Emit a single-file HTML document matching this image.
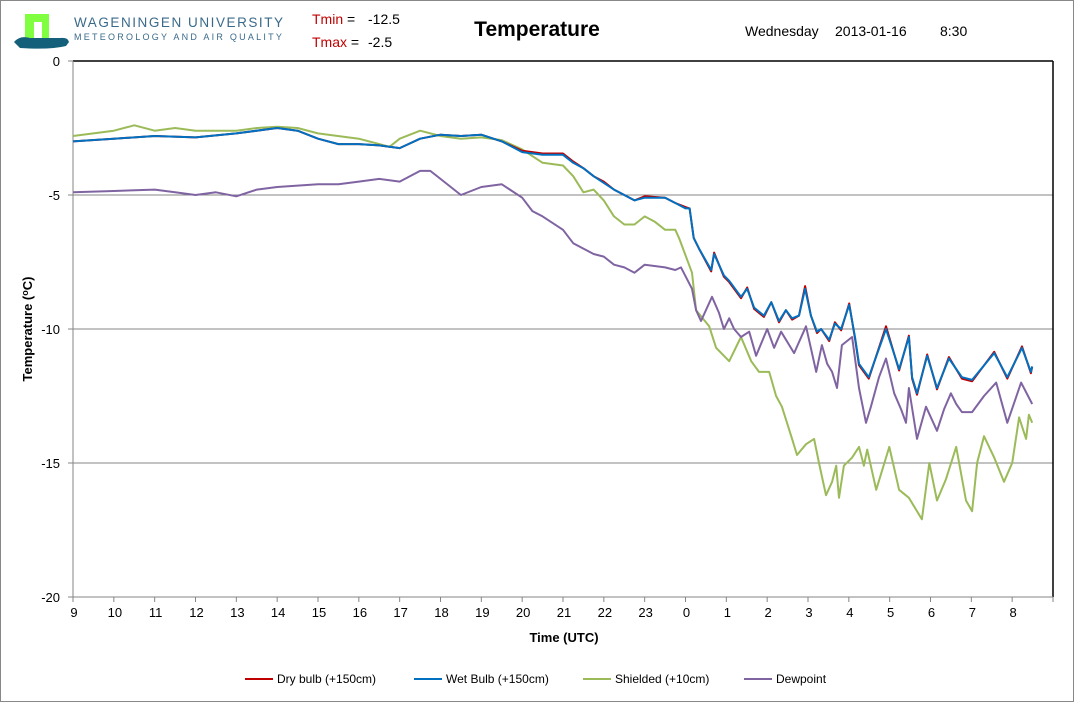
<!DOCTYPE html>
<html><head><meta charset="utf-8"><style>
body{margin:0;background:#fff;font-family:"Liberation Sans",Arial,sans-serif}
#wrap{position:relative;width:1074px;height:702px;overflow:hidden}
</style></head><body>
<div id="wrap">
<svg id="svg" width="1074" height="702" xmlns="http://www.w3.org/2000/svg" font-family="Liberation Sans, Arial, sans-serif">
<rect x="0.5" y="0.5" width="1073" height="701" fill="#fff" stroke="#888"/>
<g>
<rect x="25" y="14" width="24" height="24" fill="#7fff3f"/>
<rect x="34" y="22" width="8" height="16" fill="#fff"/>
<path d="M14,42 Q20,35 30,38 L60,38 Q68,37 69,42 L66,46 Q50,50 20,48 Z" fill="#14607a"/>
</g>
<text x="74" y="27" font-size="13.5" fill="#3a6a8a" letter-spacing="1.55">WAGENINGEN UNIVERSITY</text>
<text x="74" y="40" font-size="9" fill="#3a6a8a" letter-spacing="2.25">METEOROLOGY AND AIR QUALITY</text>
<text x="312" y="24" font-size="14"><tspan fill="#c00000">Tmin</tspan><tspan fill="#000"> =</tspan></text>
<text x="368" y="24" font-size="14">-12.5</text>
<text x="312" y="47" font-size="14"><tspan fill="#c00000">Tmax</tspan><tspan fill="#000"> =</tspan></text>
<text x="368" y="47" font-size="14">-2.5</text>
<text x="537" y="36" font-size="21" font-weight="bold" text-anchor="middle">Temperature</text>
<text x="745" y="36" font-size="14">Wednesday</text>
<text x="835" y="36" font-size="14">2013-01-16</text>
<text x="940" y="36" font-size="14">8:30</text>
<g id="grid"></g><g id="axes"></g><g id="series"></g>
<text transform="translate(32,329) rotate(-90)" font-size="13" font-weight="bold" text-anchor="middle">Temperature (<tspan font-size="9" dy="-4">o</tspan><tspan dy="4">C)</tspan></text>
<text x="564" y="642" font-size="13" font-weight="bold" text-anchor="middle">Time (UTC)</text>
<g id="legend"></g>
</svg>
</div>
<script>
const xTickLabels=["9","10","11","12","13","14","15","16","17","18","19","20","21","22","23","0","1","2","3","4","5","6","7","8"];
const yTicks=[0,-5,-10,-15,-20];
const wetT=[0,1,2,3,4,5,5.5,6,6.5,7,7.5,8,8.5,9,9.5,10,10.5,11,11.5,12,12.25,12.5,12.75,13,13.25,13.5,13.75,14,14.5,14.75,15,15.1,15.2,15.33,15.63,15.7,15.94,16.07,16.36,16.51,16.68,16.92,17.1,17.29,17.46,17.61,17.78,17.93,18.07,18.22,18.32,18.52,18.66,18.81,19.01,19.15,19.25,19.49,19.91,20.23,20.47,20.55,20.67,20.92,21.16,21.45,21.77,22.02,22.56,22.88,23.24,23.46,23.49];
const wetV=[-3.0,-2.9,-2.8,-2.85,-2.7,-2.5,-2.6,-2.9,-3.1,-3.1,-3.15,-3.25,-2.9,-2.75,-2.8,-2.75,-3.0,-3.4,-3.5,-3.5,-3.8,-4.0,-4.3,-4.55,-4.8,-5.0,-5.2,-5.1,-5.1,-5.3,-5.5,-5.5,-6.6,-7.0,-7.8,-7.2,-8.0,-8.2,-8.8,-8.5,-9.2,-9.5,-9.0,-9.7,-9.3,-9.6,-9.5,-8.5,-9.5,-10.1,-10.0,-10.4,-9.8,-10.0,-9.1,-10.3,-11.3,-11.8,-10.0,-11.5,-10.3,-11.8,-12.4,-11.0,-12.2,-11.1,-11.8,-11.9,-10.9,-11.8,-10.7,-11.6,-11.4];
const dryT=wetT.slice();
const dryV=[-3.0,-2.9,-2.8,-2.85,-2.7,-2.5,-2.6,-2.9,-3.1,-3.1,-3.15,-3.25,-2.9,-2.75,-2.8,-2.75,-3.0,-3.35,-3.45,-3.45,-3.75,-4.0,-4.3,-4.5,-4.8,-5.0,-5.2,-5.05,-5.1,-5.3,-5.45,-5.5,-6.6,-7.0,-7.85,-7.15,-8.05,-8.25,-8.85,-8.45,-9.25,-9.55,-9.0,-9.75,-9.3,-9.65,-9.5,-8.4,-9.5,-10.15,-10.0,-10.45,-9.75,-10.05,-9.05,-10.35,-11.35,-11.85,-9.9,-11.55,-10.25,-11.85,-12.45,-10.95,-12.25,-11.05,-11.85,-11.95,-10.85,-11.85,-10.65,-11.65,-11.4];
const shT=[0,1,1.5,2,2.5,3,4,4.5,5,5.5,6,7,7.75,8,8.5,9,9.5,10,10.5,11,11.5,12,12.25,12.5,12.75,13,13.25,13.5,13.75,14,14.25,14.5,14.75,14.84,15.16,15.26,15.58,15.75,16.07,16.36,16.61,16.8,17.05,17.22,17.36,17.61,17.73,17.95,18.15,18.27,18.44,18.59,18.69,18.76,18.88,19.08,19.25,19.37,19.45,19.67,19.99,20.23,20.47,20.79,20.97,21.16,21.38,21.63,21.87,22.02,22.14,22.31,22.56,22.8,23.0,23.17,23.34,23.41,23.49];
const shV=[-2.8,-2.6,-2.4,-2.6,-2.5,-2.6,-2.6,-2.5,-2.45,-2.5,-2.7,-2.9,-3.2,-2.9,-2.6,-2.8,-2.9,-2.85,-2.95,-3.3,-3.8,-3.9,-4.3,-4.9,-4.8,-5.2,-5.8,-6.1,-6.1,-5.8,-6.0,-6.3,-6.3,-6.6,-7.9,-9.3,-9.9,-10.7,-11.2,-10.3,-11.2,-11.6,-11.6,-12.5,-12.9,-14.1,-14.7,-14.3,-14.1,-15.0,-16.2,-15.7,-15.1,-16.3,-15.1,-14.8,-14.4,-15.1,-14.5,-16.0,-14.4,-16.0,-16.3,-17.1,-15.0,-16.4,-15.6,-14.4,-16.4,-16.8,-15.0,-14.0,-14.8,-15.7,-15.0,-13.3,-14.1,-13.2,-13.5];
const dpT=[0,1,2,2.5,3,3.5,4,4.5,5,5.5,6,6.5,7,7.5,8,8.5,8.75,9,9.5,10,10.5,11,11.25,11.5,12,12.25,12.5,12.75,13,13.25,13.5,13.75,14,14.5,14.75,14.89,15.16,15.26,15.38,15.65,15.82,15.94,16.07,16.19,16.36,16.56,16.73,17.0,17.17,17.34,17.66,17.95,18.2,18.34,18.47,18.59,18.71,18.83,19.08,19.25,19.42,19.54,19.74,19.91,20.11,20.28,20.4,20.47,20.67,20.89,21.16,21.33,21.5,21.63,21.77,22.02,22.31,22.61,22.88,23.22,23.49];
const dpV=[-4.9,-4.85,-4.8,-4.9,-5.0,-4.9,-5.05,-4.8,-4.7,-4.65,-4.6,-4.6,-4.5,-4.4,-4.5,-4.1,-4.1,-4.4,-5.0,-4.7,-4.6,-5.1,-5.6,-5.8,-6.3,-6.8,-7.0,-7.2,-7.3,-7.6,-7.7,-7.9,-7.6,-7.7,-7.8,-7.7,-8.5,-9.3,-9.7,-8.8,-9.4,-10.0,-9.6,-10.0,-10.3,-10.1,-11.0,-10.0,-10.7,-10.1,-10.9,-9.9,-11.6,-10.6,-11.3,-11.6,-12.2,-10.6,-10.3,-12.2,-13.5,-12.9,-11.8,-11.1,-12.4,-13.0,-13.5,-12.2,-14.1,-12.9,-13.8,-13.0,-12.4,-12.8,-13.1,-13.1,-12.5,-12.0,-13.5,-12.0,-12.8];
const seriesNames=["Dry bulb (+150cm)","Wet Bulb (+150cm)","Shielded (+10cm)","Dewpoint"];
const seriesColors=["#c00000","#0070c0","#9bbb59","#8064a2"];

const NS="http://www.w3.org/2000/svg";
const X0=73,X1=1053,Y0=61,Y1=597;
const xs=h=>X0+h*(X1-X0)/24;
const ys=v=>Y0+(0-v)*(Y1-Y0)/20;
function mk(tag,attrs,parent){const e=document.createElementNS(NS,tag);for(const k in attrs)e.setAttribute(k,attrs[k]);parent.appendChild(e);return e;}
const grid=document.getElementById('grid'),axes=document.getElementById('axes'),ser=document.getElementById('series'),leg=document.getElementById('legend');
yTicks.forEach(v=>{
  if(v!==-20){const l=mk('line',{x1:X0,x2:X1,y1:ys(v),y2:ys(v),stroke:v===0?'#000':'#868686','stroke-width':v===0?1.5:1},grid);
  
  }
  const t=mk('text',{x:X0-13,y:ys(v)+5,'font-size':13,'text-anchor':'end'},axes);t.textContent=v;
  
  
  mk('line',{x1:X0-5,x2:X0,y1:ys(v),y2:ys(v),stroke:'#868686'},axes);
});
const fr=mk('line',{x1:X1,x2:X1,y1:Y0,y2:Y1,stroke:'#000','stroke-width':1.5},axes);


const ya=mk('line',{x1:X0,x2:X0,y1:Y0,y2:Y1,stroke:'#868686'},axes);


const xa=mk('line',{x1:X0,x2:X1,y1:Y1,y2:Y1,stroke:'#868686'},axes);


for(let i=0;i<=24;i++)mk('line',{x1:xs(i),x2:xs(i),y1:Y1,y2:Y1+5,stroke:'#868686'},axes);
xTickLabels.forEach((s,i)=>{const t=mk('text',{x:xs(i)+1,y:Y1+20,'font-size':13,'text-anchor':'middle'},axes);t.textContent=s;
  
  });
const data=[[dryT,dryV],[wetT,wetV],[shT,shV],[dpT,dpV]];
[2,3,0,1].forEach(k=>{
  const [T,V]=data[k];
  const p=mk('polyline',{points:T.map((t,i)=>xs(t).toFixed(1)+','+ys(V[i]).toFixed(1)).join(' '),fill:'none',stroke:seriesColors[k],'stroke-width':2,'stroke-linejoin':'round'},ser);
  
  
});
const legX=[245,414,583,744];
seriesNames.forEach((n,k)=>{
  const g=mk('g',{},leg);
  
  
  mk('line',{x1:legX[k],x2:legX[k]+28,y1:679,y2:679,stroke:seriesColors[k],'stroke-width':2},g);
  const t=mk('text',{x:legX[k]+32,y:683,'font-size':12},g);t.textContent=n;
});
</script>
</body></html>
